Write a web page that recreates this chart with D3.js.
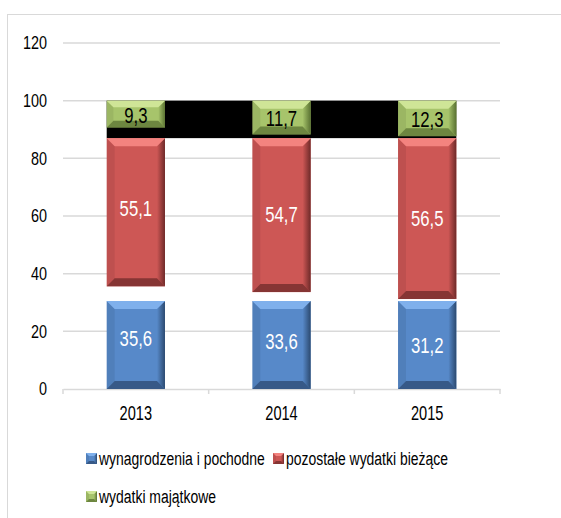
<!DOCTYPE html>
<html>
<head>
<meta charset="utf-8">
<script src="https://cdn.jsdelivr.net/npm/d3@7"></script>
<style>
  body { margin: 0; background: #fff; }
  text { font-family: "Liberation Sans", Arial, sans-serif; }
</style>
</head>
<body>
<div id="chart"></div>
<script>
const width = 561;
const height = 518;

// dane
const years = ["2013", "2014", "2015"];
const wynagrodzenia = [35.6, 33.6, 31.2];
const pozostale = [55.1, 54.7, 56.5];
const majatkowe = [9.3, 11.7, 12.3];
const seriesNames = ["wynagrodzenia i pochodne", "pozostałe wydatki bieżące", "wydatki majątkowe"];
const yTicks = [0, 20, 40, 60, 80, 100, 120];

const colors = ["#5789c9", "#cd5755", "#a7c46b"];
const lightColors = ["#7fb0ec", "#f3837f", "#cfe597"];
const darkColors = ["#2c4a70", "#6e2a29", "#5a7232"];
const labelColors = ["#ffffff", "#ffffff", "#000000"];

const rows = years.map((y, i) => ({
  year: y, s0: wynagrodzenia[i], s1: pozostale[i], s2: majatkowe[i]
}));

const svg = d3.select("#chart").append("svg")
    .attr("width", width)
    .attr("height", height);

// tekst w oryginale jest zwezony w poziomie (sx)
function label(g, tx, ty, txt, size, sx, anchor, fill) {
  return g.append("text")
      .attr("transform", `translate(${tx},${ty}) scale(${sx},1)`)
      .attr("dy", "0.35em")
      .attr("text-anchor", anchor)
      .style("font-size", size + "px")
      .style("fill", fill)
      .text(txt);
}

// ramka wykresu
svg.append("rect")
    .attr("x", 7.5).attr("y", 14.5)
    .attr("width", 600).attr("height", 600)
    .attr("fill", "none")
    .attr("stroke", "#d9d9d9");

const x = d3.scaleBand()
    .domain(years)
    .range([63, 500])
    .paddingInner(0.6)
    .paddingOuter(0.3);

const y = d3.scaleLinear()
    .domain([0, 120])
    .range([389, 43]);

// siatka
svg.append("g")
  .selectAll("line")
  .data(yTicks.filter(d => d > 0))
  .join("line")
    .attr("x1", 63).attr("x2", 500)
    .attr("y1", d => y(d)).attr("y2", d => y(d))
    .attr("stroke", "#d9d9d9")
    .attr("stroke-width", 1.5);

// os Y - etykiety
const yLabels = svg.append("g");
yTicks.forEach(d => label(yLabels, 47, y(d), d, 18, 0.8, "end", "#000"));

// os X
const xAxis = svg.append("g")
    .attr("transform", `translate(0,${y(0)})`)
    .call(d3.axisBottom(x).tickSize(0).tickFormat(""));
xAxis.select(".domain").attr("stroke", "#d9d9d9").attr("stroke-width", 1.5);
const step = x.step();
xAxis.selectAll(".sep")
  .data(d3.range(years.length + 1))
  .join("line")
    .attr("x1", i => 63 + i * step)
    .attr("x2", i => 63 + i * step)
    .attr("y1", 0).attr("y2", 5)
    .attr("stroke", "#d9d9d9")
    .attr("stroke-width", 1.5);
const xLabels = svg.append("g");
years.forEach(yr => label(xLabels, x(yr) + x.bandwidth() / 2, 413, yr, 20, 0.73, "middle", "#000"));

const stack = d3.stack().keys(["s0", "s1", "s2"]);
const series = stack(rows);

// w oryginale slupki sa "obciete" do najnizszego wierzcholka serii
const minTops = series.map(s => d3.min(s, d => d[1]));

const defs = svg.append("defs");
colors.forEach((c, i) => {
  const g = defs.append("linearGradient").attr("id", "rg" + i);
  g.append("stop").attr("offset", "0%").attr("stop-color", c);
  g.append("stop").attr("offset", "100%").attr("stop-color", darkColors[i]);
});

function bevel(g, x0, y0, w, h, i, b) {
  g.append("rect").attr("x", x0).attr("y", y0).attr("width", w).attr("height", h)
      .attr("fill", colors[i]);
  // prawa krawedz
  g.append("path")
      .attr("d", `M${x0 + w},${y0}L${x0 + w - b},${y0 + b}L${x0 + w - b},${y0 + h - b}L${x0 + w},${y0 + h}Z`)
      .attr("fill", `url(#rg${i})`);
  // lewa krawedz
  g.append("path")
      .attr("d", `M${x0},${y0}L${x0 + b},${y0 + b}L${x0 + b},${y0 + h - b}L${x0},${y0 + h}Z`)
      .attr("fill", "#000").attr("opacity", 0.07);
  // gora
  g.append("path")
      .attr("d", `M${x0},${y0}L${x0 + w},${y0}L${x0 + w - b},${y0 + b}L${x0 + b},${y0 + b}Z`)
      .attr("fill", lightColors[i]);
  // dol
  g.append("path")
      .attr("d", `M${x0},${y0 + h}L${x0 + w},${y0 + h}L${x0 + w - b},${y0 + h - b}L${x0 + b},${y0 + h - b}Z`)
      .attr("fill", darkColors[i]).attr("opacity", 0.75);
}

// czarny pas
svg.append("rect")
    .attr("x", x(years[0]))
    .attr("y", y(100))
    .attr("width", x(years[years.length - 1]) + x.bandwidth() - x(years[0]))
    .attr("height", y(minTops[1]) + 2 - y(100))
    .attr("fill", "#000");

const bars = svg.append("g");
series.forEach((s, i) => {
  s.forEach(d => {
    const top = i === 2 ? y(d3.max(s, e => e[1])) : y(minTops[i]) + 2;
    const bottom = y(d[0]);
    const h = bottom - top;
    bevel(bars, x(d.data.year), top, x.bandwidth(), h, i, Math.min(8, h / 4));
  });
});

// etykiety danych
const dataLabels = svg.append("g");
series.forEach((s, i) => {
  s.forEach(d => {
    label(dataLabels, x(d.data.year) + x.bandwidth() / 2, y((d[0] + d[1]) / 2) + 1,
      d3.format(".1f")(d[1] - d[0]).replace(".", ","), 22, 0.76, "middle", labelColors[i]);
  });
});

// legenda
const legendPos = [[86, 459], [273, 459], [86, 497]];
const legend = svg.append("g");
seriesNames.forEach((name, i) => {
  const [lx, ly] = legendPos[i];
  bevel(legend, lx, ly - 6, 11, 11, i, 3);
  label(legend, lx + 13, ly, name, 18, 0.775, "start", "#000");
});
</script>
</body>
</html>
